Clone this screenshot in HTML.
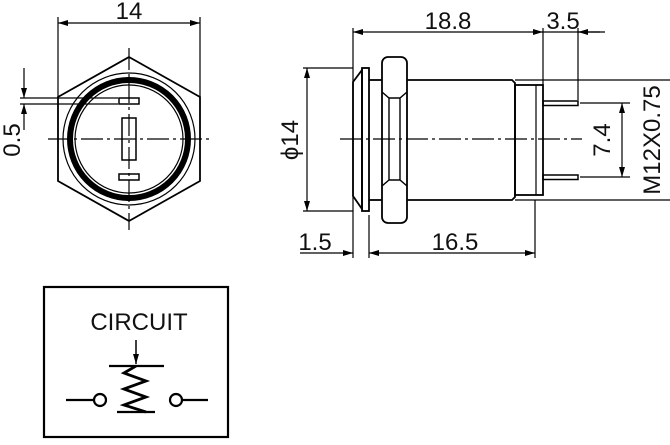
<!DOCTYPE html>
<html><head><style>body{margin:0;background:#fff}</style></head><body>
<svg width="670" height="440" viewBox="0 0 670 440" xmlns="http://www.w3.org/2000/svg" font-family="Liberation Sans, sans-serif" fill="none" stroke="#000">
<defs><marker id="a" viewBox="0 0 10 6" refX="10" refY="3" markerWidth="11" markerHeight="6" orient="auto-start-reverse" markerUnits="userSpaceOnUse"><path d="M0,0L10,3L0,6z" fill="#000" stroke="none"/></marker></defs>
<g stroke-width="1.2">
<line x1="58" y1="17" x2="58" y2="97"/><line x1="200" y1="17" x2="200" y2="97"/>
<line x1="58" y1="23" x2="200" y2="23" marker-start="url(#a)" marker-end="url(#a)"/>
<polygon points="129,57 200,97 200,181 129,221 58,181 58,97" stroke-width="1.8"/>
<circle cx="129" cy="139" r="66"/>
<circle cx="129" cy="139" r="59" stroke-width="6"/>
<circle cx="129" cy="139" r="54"/>
<rect x="119" y="98" width="20" height="6" stroke-width="1.5"/>
<rect x="122" y="118" width="14" height="42" stroke-width="1.5"/>
<rect x="119" y="174" width="20" height="6" stroke-width="1.5"/>
<line x1="48" y1="139" x2="212" y2="139" stroke-dasharray="22,4,3,4"/>
<line x1="129" y1="48" x2="129" y2="230" stroke-dasharray="22,4,3,4"/>
<line x1="20" y1="98" x2="118" y2="98"/><line x1="20" y1="104" x2="118" y2="104"/>
<line x1="24" y1="68" x2="24" y2="98" marker-end="url(#a)"/>
<line x1="24" y1="130" x2="24" y2="104" marker-end="url(#a)"/>
<line x1="353" y1="28" x2="353" y2="258"/>
<line x1="543" y1="28" x2="543" y2="85"/><line x1="578" y1="28" x2="578" y2="100"/>
<line x1="353" y1="32" x2="543" y2="32" marker-start="url(#a)" marker-end="url(#a)"/>
<line x1="543" y1="32" x2="605" y2="32"/>
<line x1="600" y1="32" x2="578" y2="32" marker-end="url(#a)"/>
<line x1="303" y1="68" x2="353" y2="68"/><line x1="303" y1="211" x2="353" y2="211"/>
<line x1="307" y1="68" x2="307" y2="211" marker-start="url(#a)" marker-end="url(#a)"/>
<path d="M353,82 L362,70 L362,209 L353,196 Z" stroke-width="1.8"/>
<rect x="362" y="68" width="7" height="143" stroke-width="1.8"/>
<line x1="369" y1="80" x2="382" y2="80" stroke-width="1.8"/><line x1="369" y1="200" x2="382" y2="200" stroke-width="1.8"/>
<rect x="382" y="57" width="25" height="166" rx="6" stroke-width="1.8"/>
<path d="M382,92 L389,98 L400,98 L407,92 M382,186 L389,180 L400,180 L407,186 M389,98 L389,180 M400,98 L400,180" stroke-width="1.4"/>
<path d="M407,80 L512,80 L515,83 L515,197 L512,200 L407,200" stroke-width="1.8"/>
<rect x="515" y="85" width="28" height="110" stroke-width="1.8"/>
<line x1="536" y1="85" x2="536" y2="195"/>
<rect x="543" y="101" width="35" height="4.5" stroke-width="1.5"/>
<rect x="543" y="175" width="35" height="4.5" stroke-width="1.5"/>
<line x1="340" y1="139" x2="582" y2="139" stroke-dasharray="22,4,3,4"/>
<line x1="580" y1="103" x2="630" y2="103"/><line x1="580" y1="177" x2="630" y2="177"/>
<line x1="622" y1="103" x2="622" y2="177" marker-start="url(#a)" marker-end="url(#a)"/>
<line x1="515" y1="80" x2="670" y2="80"/><line x1="515" y1="200" x2="670" y2="200"/>
<line x1="369" y1="215" x2="369" y2="258"/><line x1="535" y1="200" x2="535" y2="258"/>
<line x1="300" y1="253" x2="353" y2="253" marker-end="url(#a)"/>
<line x1="369" y1="253" x2="535" y2="253" marker-start="url(#a)" marker-end="url(#a)"/>
<rect x="44" y="287" width="184" height="150" stroke-width="2.2"/>
<line x1="136" y1="340" x2="136" y2="364" stroke-width="1.5" marker-end="url(#a)"/>
<line x1="109" y1="366" x2="164" y2="366" stroke-width="2.2"/>
<polyline points="136,366 124,373 146,381 124,389 146,397 124,405 146,412" stroke-width="2.8"/>
<line x1="117" y1="412" x2="155" y2="412" stroke-width="2.2"/>
<line x1="66" y1="400" x2="94" y2="400" stroke-width="2.2"/><circle cx="100" cy="400" r="6" stroke-width="2.2"/>
<circle cx="176" cy="400" r="6" stroke-width="2.2"/><line x1="182" y1="400" x2="208" y2="400" stroke-width="2.2"/>
</g>
<g fill="#111" stroke="none" font-size="24">
<text x="129" y="19" text-anchor="middle">14</text>
<text x="448" y="29" text-anchor="middle">18.8</text>
<text x="563" y="29" text-anchor="middle">3.5</text>
<text x="315" y="250" text-anchor="middle">1.5</text>
<text x="455" y="250" text-anchor="middle">16.5</text>
<text transform="translate(20,140) rotate(-90)" text-anchor="middle">0.5</text>
<text transform="translate(298,140) rotate(-90)" text-anchor="middle">ϕ14</text>
<text transform="translate(610,140) rotate(-90)" text-anchor="middle">7.4</text>
<text transform="translate(660,140) rotate(-90)" text-anchor="middle">M12X0.75</text>
<text x="139" y="330" text-anchor="middle">CIRCUIT</text>
</g>
</svg>
</body></html>
